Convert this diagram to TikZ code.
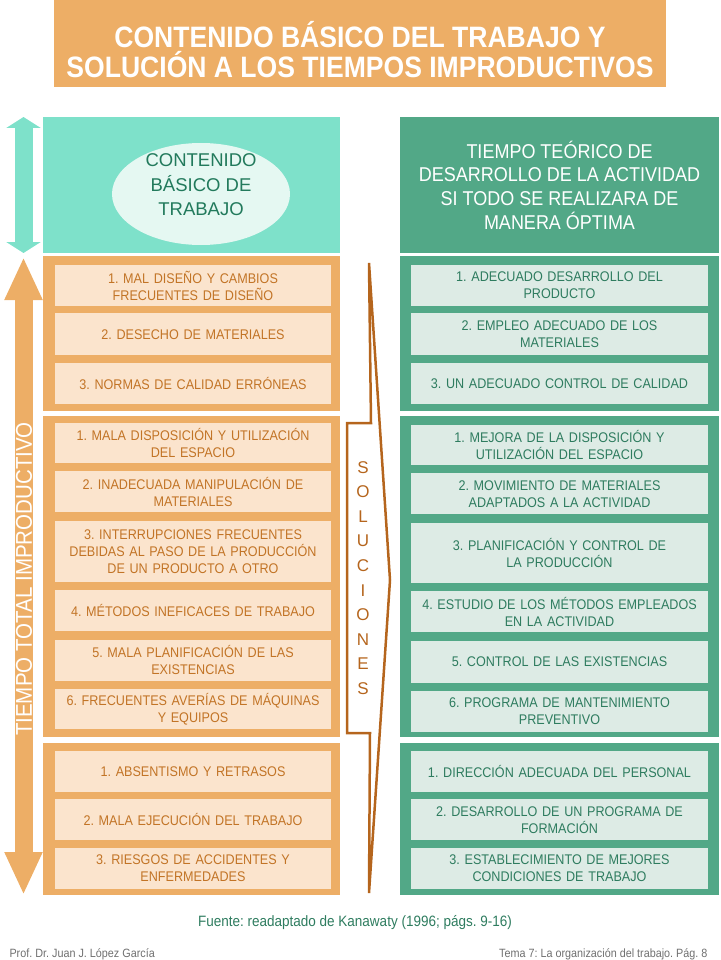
\documentclass[tikz,border=0pt]{standalone}
\usepackage{fontspec}
\setmainfont{Liberation Sans}
\newfontfamily\narrowsf{Liberation Sans}[FakeStretch=0.9]
\usepackage{tikz}
\usetikzlibrary{arrows.meta, positioning, shapes.geometric}
\frenchspacing

\definecolor{naranja}{HTML}{EDAE66}
\definecolor{melocoton}{HTML}{FBE4CD}
\definecolor{textonaranja}{HTML}{C27426}
\definecolor{turquesa}{HTML}{7EE1CA}
\definecolor{ovalo}{HTML}{E5F8F2}
\definecolor{textoovalo}{HTML}{227A5C}
\definecolor{verde}{HTML}{52A887}
\definecolor{grisverde}{HTML}{DDEBE5}
\definecolor{textoverde}{HTML}{2E7C5F}
\definecolor{marron}{HTML}{B5651D}
\definecolor{gris}{HTML}{6F6F6F}

\begin{document}
\begin{tikzpicture}[x=1pt, y=-1pt,
          grupoizq/.style={rectangle, fill=naranja, minimum width=297pt, inner sep=0pt},
          grupoder/.style={rectangle, fill=verde, minimum width=319pt, inner sep=0pt},
          causa/.style={rectangle, fill=melocoton, text=textonaranja, text width=276pt, inner sep=0pt, align=center, minimum height=41pt, font=\narrowsf\fontsize{14}{17}\selectfont},
          solucion/.style={rectangle, fill=grisverde, text=textoverde, text width=297pt, inner sep=0pt, align=center, minimum height=41pt, font=\narrowsf\fontsize{14}{17}\selectfont},
          flecha/.style={line width=18pt, {Triangle[width=35pt, length=43pt]}-{Triangle[width=35pt, length=43pt]}},
          node distance=7pt
      ]
      \useasboundingbox (0,0) rectangle (720,960);

      % Title
      \fill[naranja] (54,0) rectangle (666,87);
      \node[text=white, align=center, font=\narrowsf\bfseries\fontsize{29.5}{30}\selectfont] (titulo) at (360,50) {CONTENIDO BÁSICO DEL TRABAJO Y\\SOLUCIÓN A LOS TIEMPOS IMPRODUCTIVOS};

      % Top boxes
      \node[rectangle, fill=turquesa, minimum width=297pt, minimum height=136pt] (basico) at (191.5,185) {};
      \node[ellipse, fill=ovalo, minimum width=178pt, minimum height=102pt] (elipse) at (201,194) {};
      \node[text=textoovalo, align=center, font=\fontsize{18.5}{24.5}\selectfont] (contenido) at (201,185) {CONTENIDO\\BÁSICO DE\\TRABAJO};
      \node[rectangle, fill=verde, text=white, minimum width=319pt, minimum height=136pt, align=center, font=\narrowsf\fontsize{20}{23.7}\selectfont] (teorico) at (559.5,185) {TIEMPO TEÓRICO DE\\DESARROLLO DE LA ACTIVIDAD\\SI TODO SE REALIZARA DE\\MANERA ÓPTIMA};

      % Groups
      \node[grupoizq, minimum height=155pt] (gia) at (191.5,333.5) {};
      \node[grupoizq, minimum height=321pt] (gib) at (191.5,576.5) {};
      \node[grupoizq, minimum height=152pt] (gic) at (191.5,819) {};
      \node[grupoder, minimum height=155pt] (gda) at (559.5,333.5) {};
      \node[grupoder, minimum height=321pt] (gdb) at (559.5,576.5) {};
      \node[grupoder, minimum height=152pt] (gdc) at (559.5,819) {};

      % Causes
      \node[causa] (ca1) at (193,285.5) {1. MAL DISEÑO Y CAMBIOS\\FRECUENTES DE DISEÑO};
      \node[causa, minimum height=42pt, below=of ca1] (ca2) {2. DESECHO DE MATERIALES};
      \node[causa, below=of ca2] (ca3) {3. NORMAS DE CALIDAD ERRÓNEAS};

      \node[causa, minimum height=40pt] (cb1) at (193,443) {1. MALA DISPOSICIÓN Y UTILIZACIÓN\\DEL ESPACIO};
      \node[causa, below=8pt of cb1] (cb2) {2. INADECUADA MANIPULACIÓN DE\\MATERIALES};
      \node[causa, minimum height=61pt, below=8pt of cb2] (cb3) {3. INTERRUPCIONES FRECUENTES\\DEBIDAS AL PASO DE LA PRODUCCIÓN\\DE UN PRODUCTO A OTRO};
      \node[causa, below=8pt of cb3] (cb4) {4. MÉTODOS INEFICACES DE TRABAJO};
      \node[causa, below=8pt of cb4] (cb5) {5. MALA PLANIFICACIÓN DE LAS\\EXISTENCIAS};
      \node[causa, minimum height=40pt, below=8pt of cb5] (cb6) {6. FRECUENTES AVERÍAS DE MÁQUINAS\\Y EQUIPOS};

      \node[causa] (cc1) at (193,771.5) {1. ABSENTISMO Y RETRASOS};
      \node[causa, below=of cc1] (cc2) {2. MALA EJECUCIÓN DEL TRABAJO};
      \node[causa, below=of cc2] (cc3) {3. RIESGOS DE ACCIDENTES Y\\ENFERMEDADES};

      % Solutions
      \node[solucion] (sa1) at (559.5,285.5) {1. ADECUADO DESARROLLO DEL\\PRODUCTO};
      \node[solucion, minimum height=42pt, below=of sa1] (sa2) {2. EMPLEO ADECUADO DE LOS\\MATERIALES};
      \node[solucion, below=of sa2] (sa3) {3. UN ADECUADO CONTROL DE CALIDAD};

      \node[solucion, minimum height=40pt] (sb1) at (559.5,445) {1. MEJORA DE LA DISPOSICIÓN Y\\UTILIZACIÓN DEL ESPACIO};
      \node[solucion, below=8pt of sb1] (sb2) {2. MOVIMIENTO DE MATERIALES\\ADAPTADOS A LA ACTIVIDAD};
      \node[solucion, minimum height=60pt, below=8pt of sb2] (sb3) {3. PLANIFICACIÓN Y CONTROL DE\\LA PRODUCCIÓN};
      \node[solucion, below=8pt of sb3] (sb4) {4. ESTUDIO DE LOS MÉTODOS EMPLEADOS\\EN LA ACTIVIDAD};
      \node[solucion, minimum height=42pt, below=8pt of sb4] (sb5) {5. CONTROL DE LAS EXISTENCIAS};
      \node[solucion, below=8pt of sb5] (sb6) {6. PROGRAMA DE MANTENIMIENTO\\PREVENTIVO};

      \node[solucion] (sc1) at (559.5,771.5) {1. DIRECCIÓN ADECUADA DEL PERSONAL};
      \node[solucion, below=of sc1] (sc2) {2. DESARROLLO DE UN PROGRAMA DE\\FORMACIÓN};
      \node[solucion, below=of sc2] (sc3) {3. ESTABLECIMIENTO DE MEJORES\\CONDICIONES DE TRABAJO};

      % Left arrows
      \coordinate (tq-arriba) at (23.5,117);
      \coordinate (tq-abajo) at (23.5,253);
      \coordinate (nj-arriba) at (23.5,257);
      \coordinate (nj-abajo) at (23.5,895);
      \draw[flecha, turquesa, line width=18pt, {Triangle[width=34pt, length=11pt]}-{Triangle[width=34pt, length=11pt]}] (tq-arriba) -- (tq-abajo);
      \draw[flecha, naranja] (nj-arriba) -- (nj-abajo);
      \node[rotate=90, text=white, font=\narrowsf\fontsize{22.8}{22.8}\selectfont] (improductivo) at (24,579) {TIEMPO TOTAL IMPRODUCTIVO};

      % Solutions bracket
      \draw[marron, line width=2.5pt, line join=miter] (369,263) -- (390,580) -- (369,893) -- (370,733) -- (347,733) -- (347,423) -- (371,423) -- cycle;
      \node[text=marron, align=center, font=\fontsize{17}{24.6}\selectfont] (soluciones) at (363,578) {S\\O\\L\\U\\C\\I\\O\\N\\E\\S};

      % Footer
      \node[anchor=base, text=textoverde, font=\narrowsf\fontsize{15}{15}\selectfont] (fuente) at (355,926.5) {Fuente: readaptado de Kanawaty (1996; págs. 9-16)};
      \node[anchor=base west, text=gris, font=\narrowsf\fontsize{12}{12}\selectfont] (autor) at (6,957) {Prof. Dr. Juan J. López García};
      \node[anchor=base east, text=gris, font=\narrowsf\fontsize{12}{12}\selectfont] (tema) at (711,957) {Tema 7: La organización del trabajo. Pág. 8};

      \end{tikzpicture}
\end{document}
